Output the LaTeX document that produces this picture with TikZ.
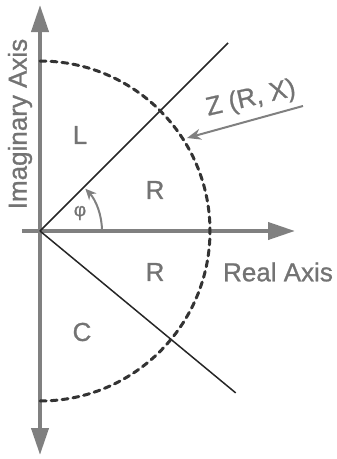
\documentclass[tikz,border=0pt]{standalone}
\usepackage{fontspec}
\setmainfont{Liberation Sans}[BoldFont=Liberation Sans, BoldFeatures={FakeBold=0.9}]
\usetikzlibrary{arrows.meta}

\tikzset{every picture/.style={line width=0.75pt}}
\tikzset{
    axis/.style={line width=4pt, color=gray, -{Triangle[length=27pt, width=17pt]}},
    lbl/.style={text=black!55, font=\fontsize{26}{30}\selectfont\bfseries, inner sep=0pt},
}

\begin{document}
\begin{tikzpicture}[x=1pt, y=1pt]
    \useasboundingbox (-40,-228) rectangle (297,231);
    % axes
    \coordinate (O) at (0,0);
    \coordinate (top) at (0,226);
    \coordinate (bot) at (0,-224);
    \coordinate (left) at (-18,0);
    \coordinate (right) at (255,0);
    \draw[axis] (O) -- (top);
    \draw[axis] (O) -- (bot);
    \draw[axis, shorten <=-0.1pt] (left) -- (right);
    % impedance lines
    \coordinate (up) at (45:266);
    \coordinate (down) at (-39.6:254);
    \draw[line width=1.5pt, color=black!85] (O) -- (up);
    \draw[line width=1.5pt, color=black!85] (O) -- (down);
    % dashed half circle
    \draw[line width=3pt, color=black!80, dash pattern=on 6pt off 5pt, line cap=round]
        (0,170) arc[start angle=90, end angle=-90, radius=170];
    % angle
    \draw[line width=2pt, color=gray, -{Stealth[length=11pt, width=10pt]}]
        (62,0) arc[start angle=0, end angle=43, radius=62];
    \node[lbl, font=\fontsize{19}{20}\selectfont\bfseries] (phi) at (40,18) {φ};
    % regions
    \node[lbl] (L) at (40,96) {L};
    \node[lbl] (Rup) at (115,41) {R};
    \node[lbl] (Rdown) at (115,-41) {R};
    \node[lbl] (C) at (42,-101) {C};
    % axis names
    \node[lbl] (re) at (238,-41) {Real Axis};
    \node[lbl, rotate=90] (im) at (-20,107) {Imaginary Axis};
    % point Z
    \node[lbl, rotate=13] (Z) at (211,132) {Z (R, X)};
    \coordinate (Zfrom) at (263,125);
    \coordinate (Zto) at (147,93);
    \draw[line width=2pt, color=gray, -{Stealth[length=14pt, width=11pt]}] (Zfrom) -- (Zto);
\end{tikzpicture}
\end{document}
